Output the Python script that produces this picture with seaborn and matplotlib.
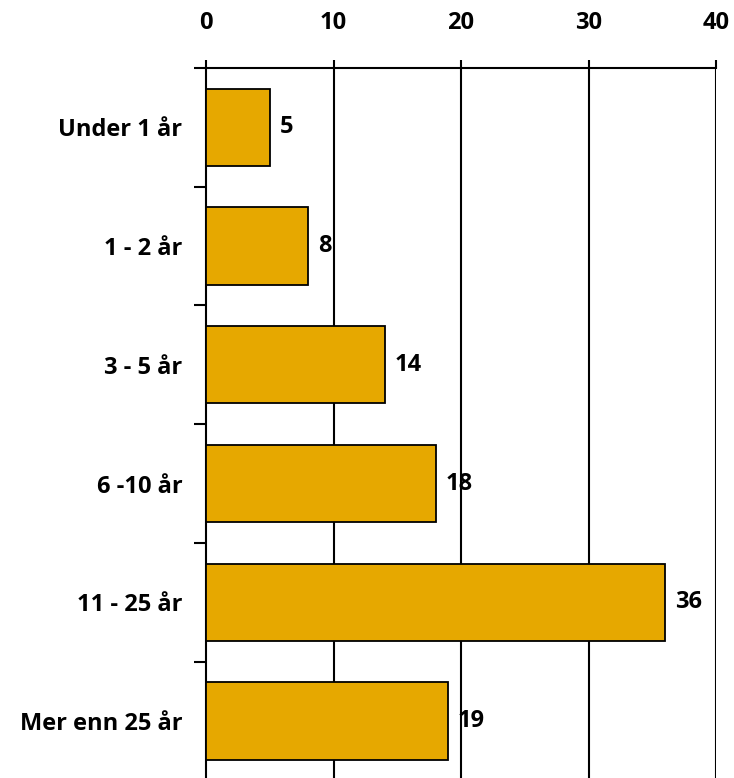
import matplotlib
matplotlib.use("Agg")
import matplotlib.pyplot as plt
import seaborn as sns
import numpy as np
import pandas as pd

categories = ["Under 1 år", "1 - 2 år", "3 - 5 år", "6 -10 år", "11 - 25 år", "Mer enn 25 år"]
values = [5, 8, 14, 18, 36, 19]
x_ticks = [0, 10, 20, 30, 40]

sns.set_theme(style="white")
plt.rcParams['font.family'] = ['Open Sans', 'DejaVu Sans']
plt.rcParams['font.weight'] = 'bold'
plt.rcParams['text.color'] = 'black'
plt.rcParams['xtick.color'] = 'black'
plt.rcParams['ytick.color'] = 'black'

df = pd.DataFrame({"cat": categories, "val": values})

fig = plt.figure(figsize=(7.34, 7.78), dpi=100)
ax = fig.add_axes([206/734, -0.003, (716-206)/734, 1 - 68/778 + 0.003])

sns.barplot(data=df, x="val", y="cat", orient="h", color="#E6A800", saturation=1,
            edgecolor="black", linewidth=1.3, width=0.65, ax=ax, zorder=3)

ax.set_xlim(0, 40)
ax.set_ylim(5.5, -0.5)
ax.set_xlabel("")
ax.set_ylabel("")

ax.xaxis.tick_top()
ax.set_xticks(x_ticks)
ax.set_xticklabels([str(t) for t in x_ticks], fontsize=17, fontweight='bold', color='black')
ax.tick_params(axis='x', which='major', direction='out', length=6, width=1.5,
               color='black', pad=18, top=True, bottom=False)

ax.set_yticks(range(len(categories)))
ax.set_yticklabels(categories, fontsize=17, fontweight='bold', color='black')
ax.set_yticks(np.arange(-0.5, len(categories) + 0.5, 1), minor=True)
ax.tick_params(axis='y', which='major', length=0, pad=17)
ax.tick_params(axis='y', which='minor', length=9, width=1.5, color='black', left=True)

for xv in x_ticks[1:]:
    ax.axvline(xv, color='black', linewidth=1.5, zorder=1)

for s in ['top', 'left']:
    ax.spines[s].set_visible(True)
    ax.spines[s].set_color('black')
    ax.spines[s].set_linewidth(1.5)
ax.spines['right'].set_visible(False)
ax.spines['bottom'].set_visible(False)

ax.bar_label(ax.containers[0], labels=[str(v) for v in values], padding=7,
             fontsize=17, fontweight='bold', color='black', zorder=5)

fig.savefig("out.png", dpi=100, facecolor='white')
